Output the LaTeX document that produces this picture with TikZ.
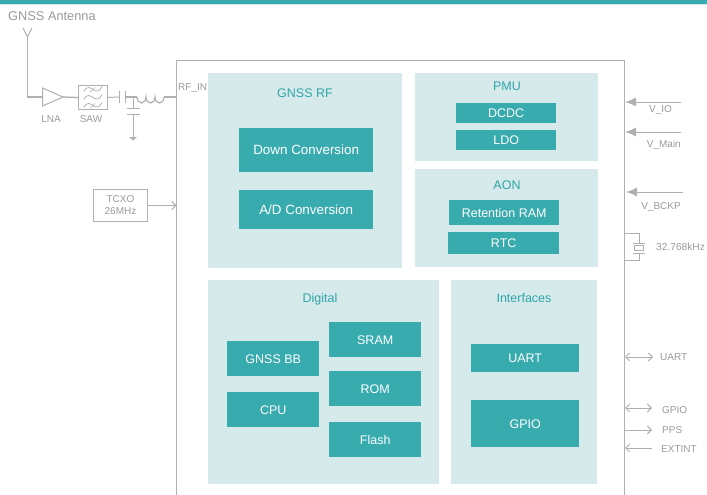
\documentclass[tikz,border=0pt]{standalone}
\usepackage{fontspec}
\setmainfont{Liberation Sans}
\usetikzlibrary{arrows.meta}
\definecolor{teal1}{HTML}{38ABAE}
\definecolor{pale}{HTML}{D6EAEB}
\definecolor{gline}{HTML}{B0B0B0}
\definecolor{gtext}{HTML}{9A9A9A}
\definecolor{ttext}{HTML}{2FA5A8}
\tikzset{
  x=1pt,y=-1pt,
  panel/.style={draw=none,fill=pale,inner sep=0pt,anchor=north west},
  block/.style={draw=none,fill=teal1,text=white,font=\fontsize{12.5}{14}\selectfont,inner sep=0pt,anchor=north west},
  wideblock/.style={block,font=\fontsize{13.4}{14}\selectfont},
  ptitle/.style={text=ttext,font=\fontsize{12.5}{14}\selectfont,inner sep=0pt},
  lab/.style={text=gtext,font=\fontsize{10}{12}\selectfont,inner sep=0pt},
  wire/.style={draw=gline,line width=1pt},
  lightwire/.style={draw=gline,line width=1pt},
  solidtip/.style={wire,-{Latex[length=11pt,width=9pt]}},
  opentip/.style={lightwire,-{Straight Barb[length=4pt,width=8pt]}},
  bothtip/.style={lightwire,{Straight Barb[length=4pt,width=8pt]}-{Straight Barb[length=4pt,width=8pt]}},
}
\newcommand{\boxat}[7]{\node[#1,minimum width=#4-#2,minimum height=#5-#3] (#6) at (#2,#3) {#7};}
\begin{document}
\begin{tikzpicture}
\useasboundingbox (0,0) rectangle (707,495);
\fill[pale] (0,4) rectangle (707,5.5);
\fill[teal1] (0,0) rectangle (707,4.5);
% chip outline
\draw[draw=gline,line width=1.3pt] (176.5,495) -- (176.5,60.5) -- (624.5,60.5) -- (624.5,495);
% panels
\boxat{panel}{208}{73}{402}{268}{prf}{}
\boxat{panel}{415}{73}{598}{161}{ppmu}{}
\boxat{panel}{415}{169}{598}{267}{paon}{}
\boxat{panel}{208}{280}{439}{484}{pdig}{}
\boxat{panel}{451}{280}{597}{484}{pif}{}
\node[ptitle] (trf) at (305,93) {GNSS RF};
\node[ptitle] (tpmu) at (507,86) {PMU};
\node[ptitle] (taon) at (507,185) {AON};
\node[ptitle] (tdig) at (320,299) {Digital};
\node[ptitle] (tif) at (524,298) {Interfaces};
% blocks
\boxat{wideblock}{239}{128}{373}{172}{down}{Down Conversion}
\boxat{wideblock}{239}{190}{373}{229}{ad}{A/D Conversion}
\boxat{block}{456}{103}{556}{123}{dcdc}{DCDC}
\boxat{block}{456}{130}{556}{150}{ldo}{LDO}
\boxat{block}{449}{200}{559}{225}{ram}{Retention RAM}
\boxat{block}{448}{232}{559}{254}{rtc}{RTC}
\boxat{block}{227}{341}{319}{376}{bb}{GNSS BB}
\boxat{block}{227}{392}{319}{427}{cpu}{CPU}
\boxat{block}{329}{322}{421}{357}{sram}{SRAM}
\boxat{block}{329}{371}{421}{406}{rom}{ROM}
\boxat{block}{329}{422}{421}{457}{flash}{Flash}
\boxat{block}{471}{344}{579}{372}{uart}{UART}
\boxat{block}{471}{400}{579}{447}{gpio}{GPIO}
% antenna
\node[lab,font=\fontsize{12.8}{14}\selectfont,anchor=west] (ant) at (8,16.5) {GNSS Antenna};
\coordinate (antl) at (23,28);
\coordinate (antr) at (32,28);
\coordinate (antj) at (27.5,37);
\draw[lightwire] (antl) -- (antj) -- (antr);
% LNA
\coordinate (lnain) at (42,97);
\coordinate (lnaout) at (63,97);
\draw[lightwire] (42.5,88) -- (lnaout) -- (42.5,106) -- cycle;
\draw[wire,line width=1.3pt] (antj) |- (lnain);
\node[lab] (lna) at (51,119.5) {LNA};
% SAW
\node[draw=gline,line width=1.2pt,minimum width=29pt,minimum height=24pt,inner sep=0pt] (saw) at (93,97.5) {};
\draw[wire,line width=1.3pt] (lnaout) -- (saw.west);
\foreach \yy in {89.5,97.5,105.5}{
  \draw[gline,line width=.8pt] (84,\yy+2) .. controls (87,\yy-4) and (90,\yy-2) .. (93,\yy) .. controls (96,\yy+2) and (99,\yy+3) .. (102,\yy-3);
}
\draw[gline,line width=.7pt] (90,92.5) -- (95,87.5) (90,108.5) -- (95,103.5);
\node[lab] (sawl) at (91,119.5) {SAW};
% series capacitor and inductor
\coordinate (c1) at (119.5,97);
\coordinate (c2) at (125.5,97);
\coordinate (junction) at (133,97);
\coordinate (indin) at (137,97);
\coordinate (indout) at (164,97);
\coordinate (chipin) at (176.5,97);
\draw[wire] (saw.east) -- (c1);
\draw[wire] (119.5,91) -- (119.5,103);
\draw[wire] (125.5,91) -- (125.5,103);
\draw[wire,line width=1.6pt] (c2) -- (indin);
\draw[wire,line width=1.2pt] (indin) arc[start angle=180,end angle=0,x radius=4.5,y radius=6] arc[start angle=180,end angle=0,x radius=4.5,y radius=6] arc[start angle=180,end angle=0,x radius=4.5,y radius=6];
\draw[wire,line width=1.6pt] (indout) -- (chipin);
% shunt capacitor and ground
\coordinate (s1) at (133,108.5);
\coordinate (s2) at (133,114.5);
\coordinate (gnd) at (133,137);
\draw[wire] (junction) -- (s1);
\draw[wire] (127,108.5) -- (140,108.5);
\draw[wire] (127,114.5) -- (140,114.5);
\draw[wire] (s2) -- (gnd);
\fill[gline] (129,137) -- (137,137) -- (133,140.5) -- cycle;
\node[lab,anchor=west] (rfin) at (178,88.5) {RF\_IN};
% TCXO
\node[draw=gline,line width=1.2pt,minimum width=54pt,minimum height=32pt,inner sep=0pt,align=center,text=gtext,font=\fontsize{10}{12}\selectfont] (tcxo) at (120.5,205.5) {TCXO\\26MHz};
\coordinate (chipclk) at (176.5,205.5);
\draw[opentip] (tcxo.east) -- (chipclk);
% power inputs
\coordinate (vio) at (681,102);
\coordinate (vioc) at (625,102);
\coordinate (vmain) at (681,132);
\coordinate (vmainc) at (625,132);
\coordinate (vbckp) at (683,192);
\coordinate (vbckpc) at (626,192);
\draw[solidtip] (vio) -- (vioc);
\draw[solidtip] (vmain) -- (vmainc);
\draw[solidtip] (vbckp) -- (vbckpc);
\node[lab] (lio) at (660.5,110) {V\_IO};
\node[lab,anchor=east] (lmain) at (681,145) {V\_Main};
\node[lab,anchor=east] (lbckp) at (681,207) {V\_BCKP};
% crystal
\node[draw=gline,line width=1pt,minimum width=9pt,minimum height=5pt,inner sep=0pt] (xtal) at (639,247.5) {};
\draw[wire] (633,243) -- (645,243);
\draw[wire] (633,253) -- (645,253);
\draw[lightwire] (624,233) -- (639,233) -- (639,243);
\draw[lightwire] (639,253) -- (639,260) -- (624,260);
\node[lab,anchor=west,font=\fontsize{10.2}{12}\selectfont] (xl) at (656,247) {32.768kHz};
% IO signals
\coordinate (uc) at (625,357);
\coordinate (ue) at (653,357);
\coordinate (gc) at (625,408);
\coordinate (ge) at (652,408);
\coordinate (pc) at (625,430);
\coordinate (pe) at (652,430);
\coordinate (ec) at (625,448);
\coordinate (ee) at (652,448);
\draw[bothtip] (uc) -- (ue);
\draw[bothtip] (gc) -- (ge);
\draw[opentip] (pc) -- (pe);
\draw[opentip] (ee) -- (ec);
\node[lab,anchor=west] (lu) at (660,357.5) {UART};
\node[lab,anchor=west] (lg) at (662,410) {GPIO};
\node[lab,anchor=west] (lp) at (662,430) {PPS};
\node[lab,anchor=west] (le) at (661,449) {EXTINT};
\end{tikzpicture}
\end{document}
